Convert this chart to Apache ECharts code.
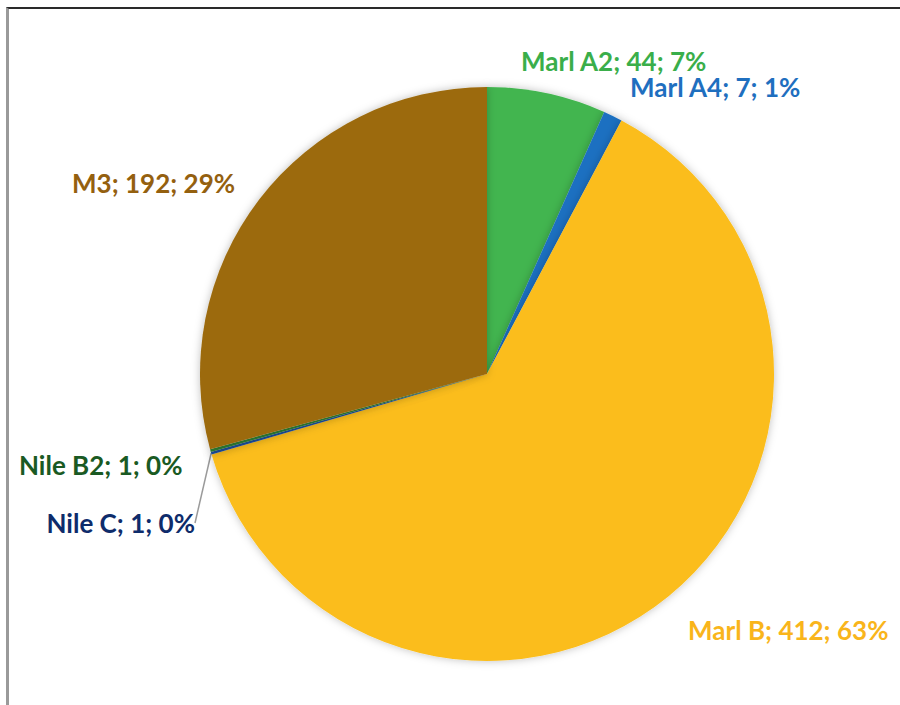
<!DOCTYPE html>
<html>
<head>
<meta charset="utf-8">
<script src="https://cdn.jsdelivr.net/npm/echarts@6/dist/echarts.min.js"></script>
<style>
  html, body { margin: 0; padding: 0; background: #fff; }
  #frame {
    position: absolute; left: 6px; top: 7px; width: 900px; height: 710px;
    border-top: 2px solid #2a2a2a; border-left: 3px solid #9a9a9a;
  }
  #pie { position: absolute; left: 0; top: 0; width: 900px; height: 705px; }
</style>
</head>
<body>
<div id="frame"></div>
<div id="pie"></div>
<script>
// 饼图数据
const names = ['Marl A2', 'Marl A4', 'Marl B', 'Nile C', 'Nile B2', 'M3']
const values = [44, 7, 412, 1, 1, 192]
const percents = ['7%', '1%', '63%', '0%', '0%', '29%']

const sliceColors = ['#42B54F', '#1F70C1', '#FBBD1A', '#1F4E9A', '#2E7D32', '#9C6B11']
const labelColors = ['#3AAE4A', '#1F6FBF', '#F9B51B', '#0E2C6B', '#1A5A23', '#94600F']
// 标签位置 [x, y, align]
const labelPos = [
  [521, 61, 'left'],
  [630, 87, 'left'],
  [688, 630, 'left'],
  [195, 523, 'right'],
  [19, 465, 'left'],
  [72, 183, 'left']
]

const chart = echarts.init(document.getElementById('pie'), null, { renderer: 'svg' })
const seriesData = []
for (let i = 0; i < names.length; i++) {
  seriesData.push({
    name: names[i],
    value: values[i],
    itemStyle: { color: sliceColors[i] },
    label: { color: labelColors[i] },
    labelLine: { show: names[i] === 'Nile C' }
  })
}

const option = {
  animation: false,
  series: [{
    type: 'pie',
    center: [487, 374],
    radius: 287,
    startAngle: 90,
    clockwise: true,
    avoidLabelOverlap: false,
    itemStyle: {
      borderWidth: 0,
      shadowBlur: 8,
      shadowColor: 'rgba(0,0,0,0.25)'
    },
    label: {
      show: true,
      position: 'outside',
      fontFamily: 'Lato',
      fontWeight: 'bold',
      fontSize: 26,
      lineHeight: 24,
      formatter: p => p.name + '; ' + p.value + '; ' + percents[p.dataIndex]
    },
    labelLine: {
      length: 10,
      length2: 0,
      lineStyle: { color: '#9a9a9a', width: 1.5 }
    },
    labelLayout: params => {
      const pos = labelPos[params.dataIndex]
      return { x: pos[0], y: pos[1], align: pos[2], verticalAlign: 'middle' }
    },
    data: seriesData
  }]
}

chart.setOption(option)
window.onresize = () => {
  chart.resize()
}
</script>
</body>
</html>
